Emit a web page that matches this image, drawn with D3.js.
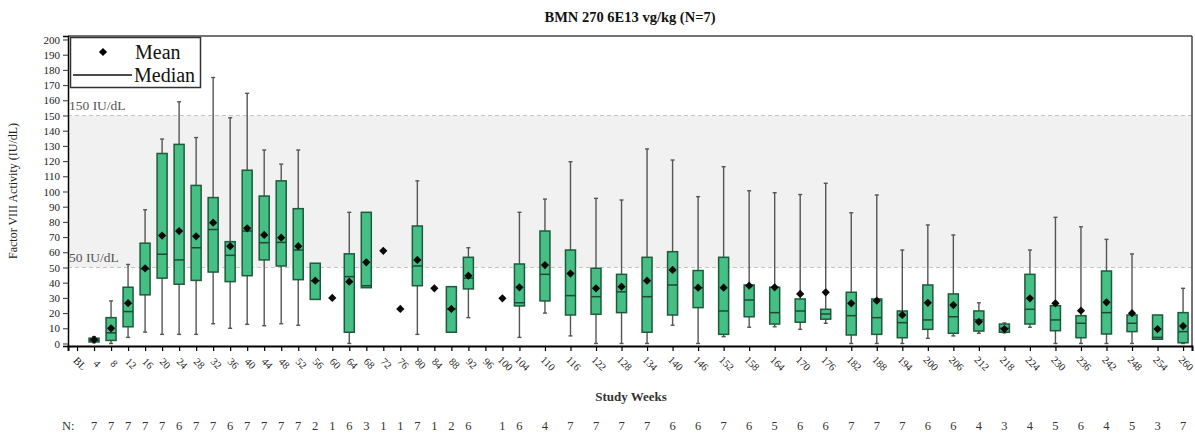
<!DOCTYPE html>
<html><head><meta charset="utf-8">
<script src="https://cdn.jsdelivr.net/npm/d3@7"></script>
<style>body{margin:0;background:#fff}svg{display:block}text{font-family:"Liberation Serif","Times New Roman",serif}</style>
</head><body><svg id="c" width="1195" height="443"></svg>
<script>
const categories = ["BL","4","8","12","16","20","24","28","32","36","40","44","48","52","56","60","64","68","72","76","80","84","88","92","96","100","104","110","116","122","128","134","140","146","152","158","164","170","176","182","188","194","200","206","212","218","224","230","236","242","248","254","260"];
const nCounts = [null,7,7,7,7,7,6,7,7,6,7,7,7,7,2,1,6,3,1,1,7,1,2,6,null,1,6,4,7,7,7,7,6,6,7,6,5,6,6,7,7,7,6,6,4,3,4,5,6,4,5,3,7];
const meanV = [null,2.5,10,26.5,49.5,71,74,70.5,79.5,64,75.8,71.4,69.6,64,41.3,30,40.7,53.4,61,22.7,55,36.3,22.7,44.6,null,29.7,37,51.6,46,36.3,37.4,41.3,48.4,36.7,36.7,38,37,32.6,33.7,26.4,28.2,18.75,26.8,25.3,14.3,9.5,29.7,26.4,21.6,27.1,19.9,9.5,11.5];
const minV = [null,0.5,0,4,7.5,6,6,6,13,10,12.6,11.7,13,12,29,null,0,36.7,null,null,6,null,7.4,17,null,null,4,20,5,0,0,0,12,0,4.5,10.7,11,9.3,13.3,0,0,0,3.4,5,6.7,7,10.7,0,0,0,0,2.8,0];
const q1V = [null,1,2,11,32,43,39,41.5,47,40.7,44.6,55,51,42,29,null,7.4,36.7,null,null,38,null,7.4,35.9,null,null,24.7,28,18.75,19.2,20.3,7.4,18.75,23.6,6,17.6,12.8,14,16,5.6,6,3.8,9.3,6.7,8.2,7.4,12.8,8.4,3.8,6.25,7.8,2.8,0.5];
const medV = [null,2,7,21,49,58.7,55,63,75,58,74,66.3,66.5,61.5,41.3,null,44,38,null,null,51,null,22.7,43,null,null,26.8,45.5,31.5,30.8,34,30.8,38.5,36.7,21.4,28.6,20.3,21.4,19.4,18.3,17,13.7,15.5,17.6,15.5,10,22.5,15.5,13.3,20.3,13.3,4,7.8];
const q3V = [null,3.5,17,37,66,125,131,104,96,67,114,97,107,88.7,52.8,null,59,86.3,null,null,77.3,null,37.4,56.7,null,null,52.3,74,61.5,49.5,45.5,56.7,60.4,48,56.7,38.5,37,29.3,22.5,33.7,29.3,21.4,38.5,32.6,21.4,12.8,45.5,24.9,18.3,47.7,18.75,18.75,20.3];
const maxV = [null,4.5,28,52,88,134.5,159,135.5,175,148.5,164.6,127.3,118,127.3,52.8,null,86.3,86.3,null,null,107,null,37.4,63,null,null,86.3,95,119.6,95.5,94.4,128,120.7,96.6,116.3,100.5,99.2,98,105.4,86,97.7,61.5,78,71.4,26.8,13.5,61.5,83,76.8,68.5,58.9,18.75,36.3];
const yTicks = d3.range(0, 201, 10);
const refLines = [{v:150, label:"150 IU/dL"}, {v:50, label:"50 IU/dL"}];

const weeks = categories.map(c => c === "BL" ? 0 : +c);
const rows = categories.map((c,i) => ({cat:c, wk:weeks[i], n:nCounts[i], mean:meanV[i], min:minV[i], q1:q1V[i], med:medV[i], q3:q3V[i], max:maxV[i]}));

const svg = d3.select("#c");
const L = 68, R = 1192, T = 36, B = 346;
const x = d3.scaleLinear().domain([-2.12, 262.1]).range([L, R]);
const y = d3.scaleLinear().domain([-1.65, 202.3]).range([B, T]);

// shaded band
svg.append("rect").attr("x", L).attr("y", y(150)).attr("width", R - L).attr("height", y(50) - y(150)).attr("fill", "#f1f1f1");
refLines.forEach(r => {
  svg.append("line").attr("x1", L).attr("x2", R).attr("y1", y(r.v)).attr("y2", y(r.v))
    .attr("stroke", "#c4c4c4").attr("stroke-width", 1.2).attr("stroke-dasharray", "4,3");
  svg.append("text").attr("x", L + 1).attr("y", y(r.v) - 5).attr("font-size", 13.5).attr("fill", "#555").text(r.label);
});

// frame
svg.append("line").attr("x1", L).attr("x2", R).attr("y1", T).attr("y2", T).attr("stroke", "#444").attr("stroke-width", 1.5);
svg.append("line").attr("x1", R).attr("x2", R).attr("y1", T).attr("y2", B).attr("stroke", "#444").attr("stroke-width", 1.5);

// boxes
const bw = 10, cap = 4;
const g = svg.append("g");
rows.forEach(d => {
  const cx = x(d.wk);
  if (d.q1 != null) {
    const wc = "#555";
    if (d.max > d.q3) {
      g.append("line").attr("x1", cx).attr("x2", cx).attr("y1", y(d.q3)).attr("y2", y(d.max)).attr("stroke", wc).attr("stroke-width", 1.4);
      g.append("line").attr("x1", cx - cap/2).attr("x2", cx + cap/2).attr("y1", y(d.max)).attr("y2", y(d.max)).attr("stroke", wc).attr("stroke-width", 1.4);
    }
    if (d.min < d.q1) {
      g.append("line").attr("x1", cx).attr("x2", cx).attr("y1", y(d.q1)).attr("y2", y(d.min)).attr("stroke", wc).attr("stroke-width", 1.4);
      g.append("line").attr("x1", cx - cap/2).attr("x2", cx + cap/2).attr("y1", y(d.min)).attr("y2", y(d.min)).attr("stroke", wc).attr("stroke-width", 1.4);
    }
    g.append("rect").attr("x", cx - bw/2).attr("y", y(d.q3)).attr("width", bw).attr("height", Math.max(1, y(d.q1) - y(d.q3)))
      .attr("fill", "#45bf84").attr("stroke", "#1e5a3c").attr("stroke-width", 1.5);
    g.append("line").attr("x1", cx - bw/2).attr("x2", cx + bw/2).attr("y1", y(d.med)).attr("y2", y(d.med)).attr("stroke", "#1e4a33").attr("stroke-width", 1.5);
  }
  if (d.mean != null) {
    g.append("path").attr("d", d3.symbol(d3.symbolSquare, 34)()).attr("transform", `translate(${cx},${y(d.mean)}) rotate(45)`).attr("fill", "#0a0a0a");
  }
});

// axes
const yAxis = svg.append("g").attr("transform", `translate(${L},0)`).call(d3.axisLeft(y).tickValues(yTicks).tickSize(5).tickPadding(3));
yAxis.select(".domain").attr("stroke", "#000").attr("stroke-width", 1.5);
yAxis.selectAll(".tick line").attr("stroke", "#333");
yAxis.selectAll("text").attr("font-size", 11).attr("fill", "#222").style("font-family", '"Liberation Serif",serif');

const xAxis = svg.append("g").attr("transform", `translate(0,${B})`).call(d3.axisBottom(x).tickValues(weeks).tickFormat((d,i) => categories[i]).tickSize(5));
xAxis.select(".domain").attr("stroke", "#000").attr("stroke-width", 2);
xAxis.selectAll(".tick line").attr("stroke", "#000").attr("stroke-width", 1.2);
xAxis.selectAll("text").attr("font-size", 10.5).attr("fill", "#222").style("font-family", '"Liberation Serif",serif')
  .attr("text-anchor", "middle").attr("dy", null).attr("y", 0)
  .attr("transform", "translate(0,20) rotate(45)");

// legend
const lg = svg.append("g");
lg.append("rect").attr("x", 70.5).attr("y", 37.5).attr("width", 130).attr("height", 50).attr("fill", "#fff").attr("stroke", "#333").attr("stroke-width", 1.5);
lg.append("path").attr("d", d3.symbol(d3.symbolSquare, 34)()).attr("transform", "translate(103,52) rotate(45)").attr("fill", "#000");
lg.append("text").attr("x", 135).attr("y", 59).attr("font-size", 20).attr("fill", "#111").text("Mean");
lg.append("line").attr("x1", 73).attr("x2", 132).attr("y1", 75).attr("y2", 75).attr("stroke", "#111").attr("stroke-width", 1.3);
lg.append("text").attr("x", 134).attr("y", 82).attr("font-size", 20).attr("fill", "#111").text("Median");

// titles
svg.append("text").attr("x", 630).attr("y", 22).attr("text-anchor", "middle").attr("font-size", 14.5).attr("font-weight", "bold").attr("fill", "#111").text("BMN 270 6E13 vg/kg (N=7)");
svg.append("text").attr("transform", `translate(17,${(T+B)/2}) rotate(-90)`).attr("text-anchor", "middle").attr("font-size", 12).attr("fill", "#222").text("Factor VIII Activity (IU/dL)");
svg.append("text").attr("x", 631).attr("y", 401).attr("text-anchor", "middle").attr("font-size", 13).attr("font-weight", "bold").attr("fill", "#333").text("Study Weeks");

// N row
svg.append("text").attr("x", 62).attr("y", 430).attr("font-size", 12.5).attr("fill", "#333").text("N:");
svg.append("g").selectAll("text").data(rows.filter(d => d.n != null)).join("text")
  .attr("x", d => x(d.wk)).attr("y", 430).attr("text-anchor", "middle").attr("font-size", 12.5).attr("fill", "#333").text(d => d.n);
</script></body></html>
